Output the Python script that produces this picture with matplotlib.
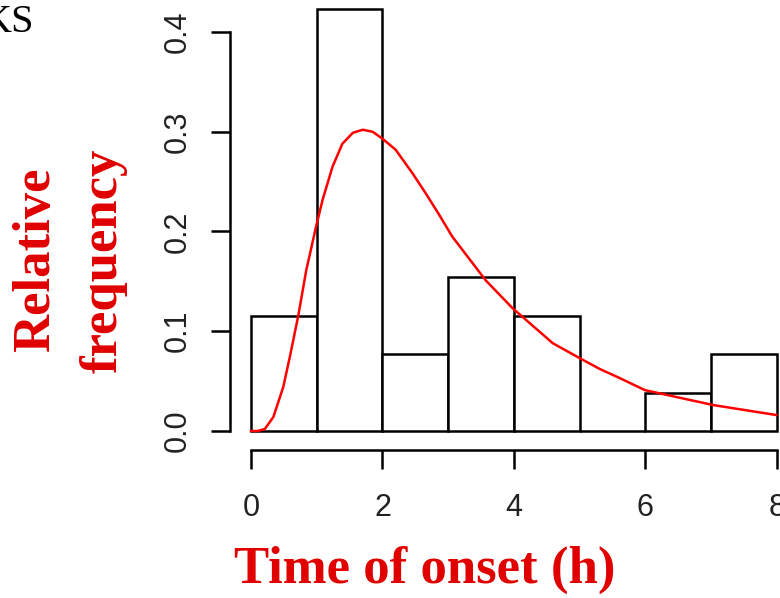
"""Histogram of time of onset with fitted density curve (R-style base graphics)."""

import matplotlib

matplotlib.use("Agg")
import matplotlib.pyplot as plt

# Histogram: relative frequency per 1-hour bin
bin_edges = [0, 1, 2, 3, 4, 5, 6, 7, 8]
rel_freq = [0.115, 0.423, 0.077, 0.154, 0.115, 0.0, 0.038, 0.077]

# Fitted density curve
curve_t = [0.0, 0.10, 0.21, 0.34, 0.49, 0.59, 0.72, 0.84, 0.99, 1.09, 1.24,
           1.39, 1.55, 1.70, 1.85, 2.00, 2.20, 2.46, 2.66, 2.86, 3.06, 3.57,
           3.98, 4.59, 5.00, 5.31, 5.61, 5.99, 7.03, 7.99]
curve_density = [0.0, 0.0, 0.002, 0.014, 0.044, 0.074, 0.116, 0.161, 0.205,
                  0.232, 0.265, 0.288, 0.299, 0.302, 0.300, 0.293, 0.282,
                  0.258, 0.238, 0.217, 0.195, 0.151, 0.123, 0.088, 0.073,
                  0.062, 0.053, 0.041, 0.026, 0.016]

x_ticks = [0, 2, 4, 6, 8]
y_ticks = [0.0, 0.1, 0.2, 0.3, 0.4]
y_tick_labels = ["0.0", "0.1", "0.2", "0.3", "0.4"]

W, H = 780, 598
RED = "#e00000"
TICK_FONT = ["Liberation Sans Narrow", "Liberation Sans", "DejaVu Sans"]
LABEL_FONT = ["Liberation Serif", "DejaVu Serif"]

fig = plt.figure(figsize=(W / 100, H / 100), dpi=100)

# plot region in pixels (R extends the data range by 4%)
xlim = (-0.32, 8.32)
ylim = (-0.019, 0.44)
px_per_x = 65.75
px_per_y = 997.5
x0_px = 251 + xlim[0] * px_per_x
x1_px = 251 + xlim[1] * px_per_x
yb_px = 431 - ylim[0] * px_per_y
yt_px = 431 - ylim[1] * px_per_y
ax = fig.add_axes([x0_px / W, 1 - yb_px / H, (x1_px - x0_px) / W, (yb_px - yt_px) / H])
ax.set_xlim(*xlim)
ax.set_ylim(*ylim)
ax.patch.set_alpha(0)

lefts = bin_edges[:-1]
widths = [b - a for a, b in zip(bin_edges[:-1], bin_edges[1:])]
ax.bar(lefts, rel_freq, width=widths, align="edge", facecolor="white",
       edgecolor="black", linewidth=1.8, zorder=2, clip_on=False)
ax.plot(curve_t, curve_density, color="#ff0000", lw=1.8, zorder=3, clip_on=False)

for side in ("top", "right"):
    ax.spines[side].set_visible(False)
ax.spines["left"].set_bounds(0, 0.4)
ax.spines["bottom"].set_bounds(0, 8)
for side in ("left", "bottom"):
    ax.spines[side].set_linewidth(1.8)

ax.set_xticks(x_ticks)
ax.set_yticks(y_ticks)
ax.set_yticklabels(y_tick_labels, rotation=90, va="center")
ax.tick_params(direction="out", length=14, width=1.8)
ax.tick_params(axis="x", pad=17)
ax.tick_params(axis="y", pad=13)
for lab in ax.get_xticklabels() + ax.get_yticklabels():
    lab.set_family(TICK_FONT)
    lab.set_fontsize(22)
    lab.set_color("#222222")

# axis titles, red bold serif
fig.text(425 / W, 1 - 570 / H, "Time of onset (h)", color=RED, family=LABEL_FONT,
         fontweight="bold", fontsize=38, ha="center", va="center")
fig.text(36 / W, 1 - 260 / H, "Relative", color=RED, family=LABEL_FONT,
         fontweight="bold", fontsize=38, rotation=90, ha="center", va="center")
fig.text(104 / W, 1 - 261 / H, "frequency", color=RED, family=LABEL_FONT,
         fontweight="bold", fontsize=38, rotation=90, ha="center", va="center")

# cropped fragment of a neighbouring caption
fig.text(-17 / W, 1 - 22 / H, "KS", color="black", family=LABEL_FONT,
         fontsize=29, ha="left", va="center")

fig.savefig("out.png", dpi=100)
